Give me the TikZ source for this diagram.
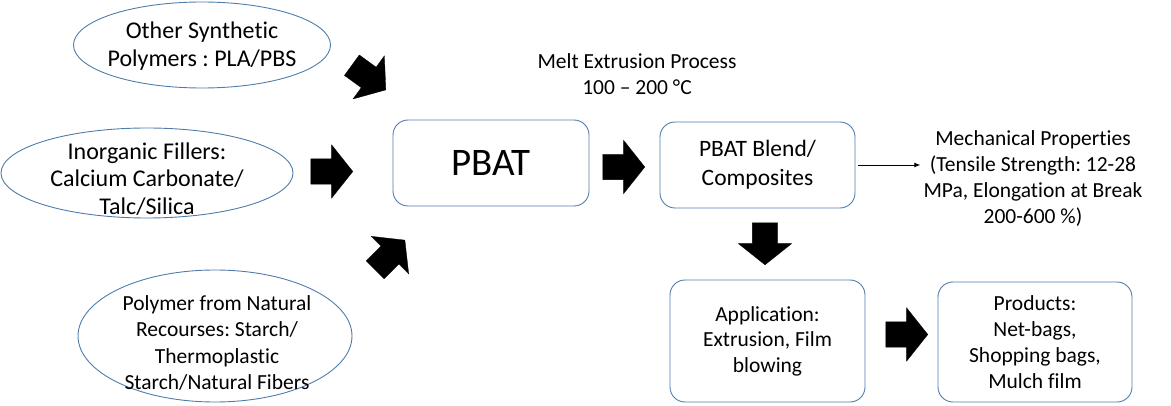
\documentclass[tikz,border=0pt]{standalone}
\usepackage{fontspec}
\setmainfont{Carlito}[Ligatures=NoCommon]
\usepackage{xcolor}
\usepackage{tikz}
\usetikzlibrary{arrows.meta,positioning,shapes.geometric,shapes.arrows}
\definecolor{edgeblue}{RGB}{80,124,170}
\newcommand{\fsz}[2]{\fontsize{#1}{#2}\selectfont}
\frenchspacing
\tikzset{
  src/.style   ={ellipse, draw=edgeblue, line width=0.9pt, inner sep=0pt},
  lbl/.style   ={align=center, inner sep=0pt},
  stage/.style ={draw=edgeblue, line width=0.9pt, rounded corners=15pt, align=center, inner sep=0pt},
  fat/.style   ={single arrow, fill=black, draw=black, line width=0.3pt, inner xsep=0pt, inner ysep=12.5pt,
                 single arrow head extend=14pt, single arrow tip angle=103, minimum height=42pt, anchor=tip},
  link/.style  ={-{Latex[length=6pt,width=5pt]}, line width=0.9pt},
}

\begin{document}
\begin{tikzpicture}[x=1pt, y=-1pt]
  \useasboundingbox (0,0) rectangle (1171,406);
  % sources
  \node[src, minimum width=257pt, minimum height=86pt] (syn) at (202,45) {};
  \node[lbl, font=\fsz{24}{28.5}] (syn-t) at (202,46) {Other Synthetic\\Polymers : PLA/PBS};
  \node[src, minimum width=292pt, minimum height=90pt] (inorg) at (147,173) {};
  \node[lbl, font=\fsz{24}{27.5}] (inorg-t) at (147,179) {Inorganic Fillers:\\Calcium Carbonate/\\Talc/Silica};
  \node[src, minimum width=274pt, minimum height=132pt] (nat) at (215,336) {};
  \node[lbl, font=\fsz{21.5}{26.5}] (nat-t) at (217,343) {Polymer from Natural\\Recourses: Starch/\\Thermoplastic\\Starch/Natural Fibers};
  % process stages
  \node[stage, minimum width=196pt, minimum height=86pt, font=\fsz{39}{47}] (pbat) at (491,163) {PBAT};
  \node[stage, minimum width=195pt, minimum height=86pt, font=\fsz{23.5}{29}] (blend) at (757.5,165) {PBAT Blend/\\Composites};
  \node[stage, minimum width=195pt, minimum height=122pt, font=\fsz{21.5}{25.5}] (app) at (767.5,341) {Application:\\Extrusion, Film\\blowing};
  \node[stage, minimum width=194pt, minimum height=120pt, font=\fsz{21.5}{26}] (prod) at (1035,342) {Products:\\Net-bags,\\Shopping bags,\\Mulch film};
  \node[lbl, font=\fsz{21.5}{26.5}] (melt) at (637,74) {Melt Extrusion Process\\100 -- 200 °C};
  \node[lbl, font=\fsz{21.5}{26}] (mech) at (1033,179) {Mechanical Properties\\(Tensile Strength: 12-28\\MPa, Elongation at Break\\200-600 \%)};
  % block arrows
  \node[fat, rotate=-36] (a-syn) at (386,90) {};
  \node[fat] (a-inorg) at (353,171.5) {};
  \node[fat, rotate=45] (a-nat) at (405,240) {};
  \node[fat] (a-pbat) at (645,167) {};
  \node[fat, rotate=-90] (a-blend) at (765,265) {};
  \node[fat] (a-app) at (928,334.5) {};
  \draw[link, shorten <=3pt, shorten >=3pt] (blend) -- (blend -| mech.west);
\end{tikzpicture}
\end{document}
